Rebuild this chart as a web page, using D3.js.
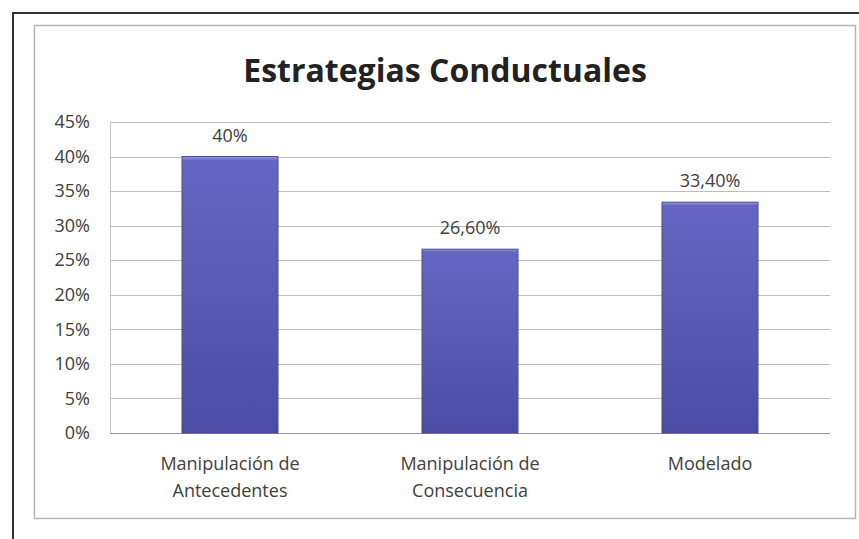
<!DOCTYPE html>
<html>
<head>
<meta charset="utf-8">
<script src="https://cdn.jsdelivr.net/npm/d3@7"></script>
<style>
  body { margin: 0; background: #fff; }
  text { font-family: "Open Sans", Lato, sans-serif; }
</style>
</head>
<body>
<svg id="chart" width="859" height="539"></svg>
<script>
// chart data
const categories = [["Manipulación de", "Antecedentes"], ["Manipulación de", "Consecuencia"], ["Modelado"]];
const values = [40, 26.6, 33.4];
const valueLabels = ["40%", "26,60%", "33,40%"];
const yTicks = [0, 5, 10, 15, 20, 25, 30, 35, 40, 45];
const title = "Estrategias Conductuales";

const svg = d3.select("#chart");

// bar gradient
const defs = svg.append("defs");
const grad = defs.append("linearGradient").attr("id", "barGrad")
    .attr("x1", 0).attr("y1", 0).attr("x2", 0).attr("y2", 1);
grad.append("stop").attr("offset", "0%").attr("stop-color", "#9a9ae0");
grad.append("stop").attr("offset", "1.5%").attr("stop-color", "#6666c2");
grad.append("stop").attr("offset", "50%").attr("stop-color", "#5a5ab4");
grad.append("stop").attr("offset", "100%").attr("stop-color", "#4c4ca6");

// outer frame (scan border) and chart area box
svg.append("line").attr("x1", 12).attr("x2", 859).attr("y1", 13).attr("y2", 13)
    .attr("stroke", "#333").attr("stroke-width", 2);
svg.append("line").attr("x1", 13).attr("x2", 13).attr("y1", 12).attr("y2", 539)
    .attr("stroke", "#333").attr("stroke-width", 2);
svg.append("rect").attr("x", 34.5).attr("y", 25.5).attr("width", 821).attr("height", 493)
    .attr("fill", "#fff").attr("stroke", "#b4b4b4").attr("stroke-width", 1.5);

const margin = {left: 110, right: 830, top: 122, bottom: 433};

const x = d3.scaleBand().domain(d3.range(values.length))
    .range([margin.left, margin.right]).paddingInner(0.6).paddingOuter(0.3);
const y = d3.scaleLinear().domain([0, 45]).range([margin.bottom, margin.top]);

// gridlines
svg.append("g").selectAll("line").data(yTicks).join("line")
    .attr("x1", margin.left).attr("x2", margin.right)
    .attr("y1", d => Math.round(y(d)) + 0.5).attr("y2", d => Math.round(y(d)) + 0.5)
    .attr("stroke", d => d === 0 ? "#9a9a9a" : "#bdbdbd").attr("stroke-width", 1);
svg.append("line").attr("x1", margin.left + 0.5).attr("x2", margin.left + 0.5)
    .attr("y1", margin.top).attr("y2", margin.bottom)
    .attr("stroke", "#c8c8c8");

// y axis labels
const yAxis = d3.axisLeft(y).tickValues(yTicks).tickFormat(d => d + "%").tickSize(0).tickPadding(20);
const yg = svg.append("g").attr("transform", `translate(${margin.left},0)`).call(yAxis);
yg.select(".domain").remove();
yg.selectAll("text").attr("font-size", 18).attr("fill", "#404040")
    .style("font-family", "'Open Sans', Lato, sans-serif");

// bars
svg.append("g").selectAll("rect").data(values).join("rect")
    .attr("x", (d, i) => x(i)).attr("width", x.bandwidth())
    .attr("y", d => y(d)).attr("height", d => y(0) - y(d))
    .attr("fill", "url(#barGrad)")
    .attr("stroke", "#48489c").attr("stroke-width", 1);

// value labels
svg.append("g").selectAll("text").data(values).join("text")
    .attr("x", (d, i) => x(i) + x.bandwidth() / 2)
    .attr("y", d => y(d) - 15)
    .attr("text-anchor", "middle").attr("font-size", 18).attr("fill", "#404040")
    .text((d, i) => valueLabels[i]);

// category labels
const cat = svg.append("g").selectAll("text").data(categories).join("text")
    .attr("x", (d, i) => x(i) + x.bandwidth() / 2)
    .attr("y", 470)
    .attr("text-anchor", "middle").attr("font-size", 18).attr("fill", "#404040");
cat.selectAll("tspan").data(d => d).join("tspan")
    .attr("x", function () { return d3.select(this.parentNode).attr("x"); })
    .attr("dy", (d, i) => i === 0 ? 0 : 27)
    .text(d => d);

// title
svg.append("text").attr("x", 445).attr("y", 82)
    .attr("text-anchor", "middle").attr("font-size", 32).attr("font-weight", "bold")
    .attr("fill", "#222").text(title);
</script>
</body>
</html>
